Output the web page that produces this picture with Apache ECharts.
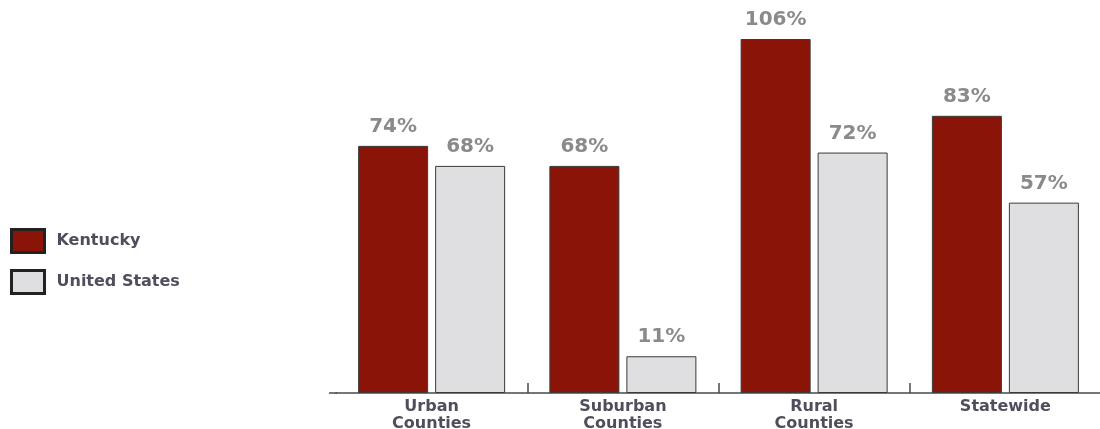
<!DOCTYPE html>
<html>
<head>
<meta charset="utf-8">
<script src="https://cdn.jsdelivr.net/npm/echarts@6/dist/echarts.min.js"></script>
<style>
  html, body { margin: 0; padding: 0; background: #fff; }
  #chart { width: 1100px; height: 429px; }
</style>
</head>
<body>
<div id="chart"></div>
<script>
// Categories and values (percent)
const categories = ['Urban\nCounties', 'Suburban\nCounties', 'Rural\nCounties', 'Statewide'];
const kentucky = [74, 68, 106, 83];
const unitedStates = [68, 11, 72, 57];
const seriesNames = ['Kentucky', 'United States'];

const FONT = '"DejaVu Sans", Arial, Helvetica, sans-serif';

const chart = echarts.init(document.getElementById('chart'), null, { renderer: 'canvas' });

const labelStyle = {
  show: true,
  position: 'top',
  distance: 9,
  formatter: p => p.value + '%',
  color: '#8a8a8a',
  fontFamily: FONT,
  fontWeight: 'bold',
  fontSize: 20
};

chart.setOption({
  animation: false,
  legend: {
    orient: 'vertical',
    left: 5,
    top: 223,
    itemWidth: 33,
    itemHeight: 23,
    itemGap: 15,
    icon: 'rect',
    data: seriesNames,
    textStyle: {
      color: '#4f4f5c',
      fontFamily: FONT,
      fontWeight: 'bold',
      fontSize: 16,
      padding: [0, 0, 0, 7]
    },
    itemStyle: { borderColor: '#222', borderWidth: 3 }
  },
  grid: { left: 336, right: -1, top: 39, bottom: 36, outerBoundsMode: 'none', containLabel: false },
  xAxis: {
    type: 'category',
    data: categories,
    axisLine: { lineStyle: { color: '#4a4a4a', width: 1.5 } },
    axisTick: {
      show: true,
      inside: true,
      length: 10,
      interval: i => i > 0,
      lineStyle: { color: '#4a4a4a', width: 1.5 }
    },
    axisLabel: {
      color: '#4f4f5c',
      fontFamily: FONT,
      fontWeight: 'bold',
      fontSize: 16,
      lineHeight: 17,
      margin: 5,
      interval: 0
    }
  },
  yAxis: {
    type: 'value',
    min: 0,
    max: 106,
    show: false,
    splitLine: { show: false }
  },
  series: [
    {
      name: seriesNames[0],
      type: 'bar',
      data: kentucky,
      barWidth: 70,
      barGap: '10%',
      itemStyle: { color: '#8b1409', borderColor: '#3a3a3a', borderWidth: 1 },
      label: labelStyle
    },
    {
      name: seriesNames[1],
      type: 'bar',
      data: unitedStates,
      barWidth: 70,
      itemStyle: { color: '#dfdfe1', borderColor: '#3a3a3a', borderWidth: 1 },
      label: labelStyle
    }
  ],
  graphic: [
    {
      type: 'line',
      shape: { x1: 329, y1: 393, x2: 337, y2: 393 },
      style: { stroke: '#4a4a4a', lineWidth: 1.5 }
    }
  ]
});
</script>
</body>
</html>
